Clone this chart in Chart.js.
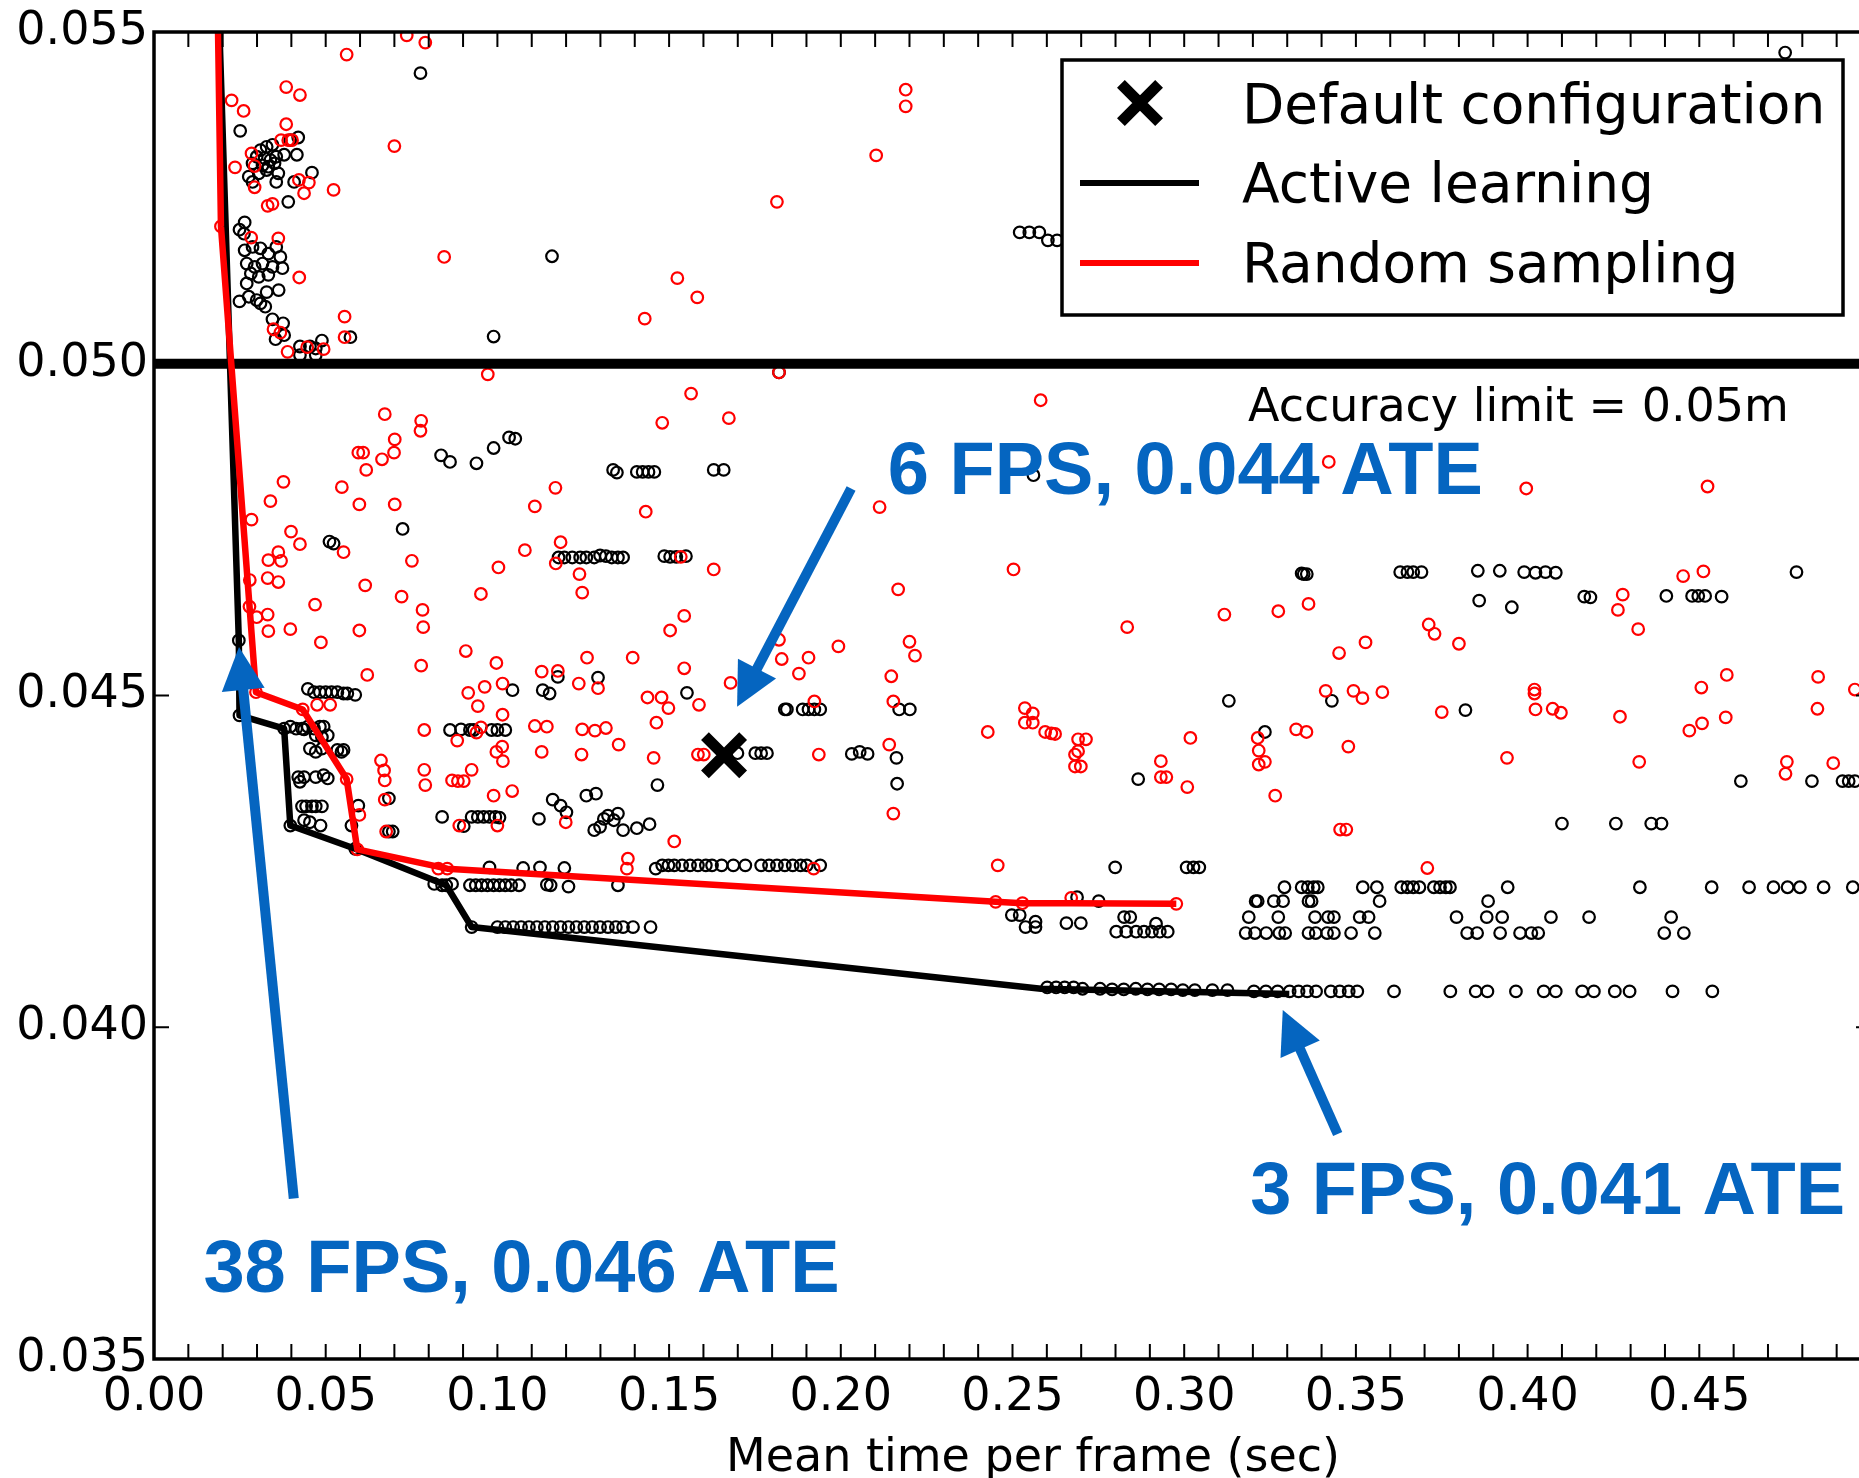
<!DOCTYPE html>
<html><head><meta charset="utf-8">
<script src="https://cdn.jsdelivr.net/npm/chart.js@4.4.1/dist/chart.umd.min.js"></script>
<style>html,body{margin:0;padding:0;background:#fff;overflow:hidden;width:1859px;height:1478px}canvas{display:block}</style>
</head><body>
<canvas id="c" width="1871" height="1478"></canvas>
<script>
// ---- data (x = mean time per frame [s], y = ATE [m]) ----
const xTickValues = [0.00, 0.05, 0.10, 0.15, 0.20, 0.25, 0.30, 0.35, 0.40, 0.45];
const yTickValues = [0.035, 0.040, 0.045, 0.050, 0.055];
const accuracyLimit = 0.05;
const defaultConfig = [[0.166, 0.0441]];

const activeFrontier = [[0.0160,0.0600],[0.0247,0.04583],[0.0249,0.04470],[0.0379,0.04450],[0.0397,0.04304],[0.0586,0.04269],[0.0851,0.04214],[0.0925,0.04151],[0.2583,0.04058],[0.3306,0.04050]];
const randomFrontier = [[0.0172,0.0600],[0.0195,0.05207],[0.0297,0.04505],[0.0433,0.04479],[0.0561,0.04374],[0.0592,0.04268],[0.0854,0.04239],[0.2451,0.04189],[0.2529,0.04187],[0.2671,0.04187],[0.2977,0.04186]];

const activeSamples = [
[0.0776,0.05438],[0.0251,0.05351],[0.0420,0.05341],[0.0397,0.05337],[0.0310,0.05322],[0.0328,0.05327],[0.0345,0.05330],[0.0299,0.05312],[0.0322,0.05310],[0.0339,0.05307],[0.0356,0.05312],[0.0379,0.05315],[0.0416,0.05315],[0.0287,0.05302],[0.0316,0.05299],[0.0333,0.05297],[0.0351,0.05302],[0.0362,0.05287],[0.0276,0.05282],[0.0305,0.05287],[0.0328,0.05292],[0.0356,0.05274],[0.0287,0.05274],[0.0408,0.05274],[0.0460,0.05288],[0.0391,0.05244],
[0.0264,0.05213],[0.0249,0.05202],[0.0262,0.05196],[0.0264,0.05171],[0.0287,0.05176],[0.0310,0.05174],[0.0333,0.05166],[0.0356,0.05176],[0.0368,0.05161],[0.0270,0.05151],[0.0293,0.05146],[0.0316,0.05151],[0.0345,0.05146],[0.0374,0.05144],[0.0282,0.05136],[0.0305,0.05131],[0.0333,0.05134],[0.0270,0.05121],[0.0363,0.05111],[0.0328,0.05108],[0.0249,0.05094],[0.0276,0.05101],[0.0299,0.05096],[0.0310,0.05091],[0.0324,0.05086],[0.0345,0.05067],[0.0376,0.05061],[0.0354,0.05037],[0.0379,0.05043],[0.0489,0.05035],[0.0572,0.05040],[0.0425,0.05026],[0.0454,0.05026],[0.0471,0.05023],[0.0425,0.05013],[0.0471,0.05013],[0.0989,0.05041],[0.1159,0.05162],[0.0836,0.04862],[0.0862,0.04852],[0.0939,0.04850],[0.0989,0.04873],[0.1034,0.04889],[0.1052,0.04887],
[0.2521,0.05198],[0.2549,0.05198],[0.2578,0.05198],[0.2603,0.05186],[0.2630,0.05186],[0.1820,0.04987],[0.1337,0.04840],[0.1348,0.04836],[0.1406,0.04837],[0.1423,0.04837],[0.1440,0.04837],[0.1457,0.04837],[0.1630,0.04840],[0.1659,0.04840],[0.2561,0.04832],[0.4750,0.05469],
[0.0724,0.04751],[0.0511,0.04732],[0.0523,0.04729],[0.1178,0.04708],[0.1195,0.04708],[0.1218,0.04708],[0.1241,0.04708],[0.1259,0.04708],[0.1282,0.04708],[0.1299,0.04711],[0.1316,0.04710],[0.1333,0.04708],[0.1351,0.04708],
[0.0247,0.04583],[0.0448,0.04510],[0.0466,0.04505],[0.0483,0.04505],[0.0500,0.04505],[0.0517,0.04505],[0.0534,0.04505],[0.0552,0.04503],[0.0563,0.04503],[0.0586,0.04501],
[0.1044,0.04508],[0.1132,0.04508],[0.1152,0.04503],[0.1176,0.04528],[0.1293,0.04527],
[0.0249,0.04470],[0.0379,0.04450],[0.0397,0.04453],[0.0414,0.04450],[0.0431,0.04450],[0.0448,0.04453],[0.0466,0.04450],[0.0483,0.04453],[0.0494,0.04453],[0.0506,0.04440],[0.0437,0.04449],[0.0471,0.04440],[0.0489,0.04437],
[0.0454,0.04420],[0.0471,0.04415],[0.0489,0.04420],[0.0534,0.04418],[0.0552,0.04418],[0.0546,0.04415],
[0.0420,0.04377],[0.0437,0.04377],[0.0471,0.04377],[0.0494,0.04380],[0.0506,0.04375],[0.0425,0.04370],
[0.0431,0.04333],[0.0443,0.04333],[0.0460,0.04333],[0.0471,0.04333],[0.0489,0.04333],[0.0595,0.04334],
[0.0437,0.04312],[0.0454,0.04309],[0.0485,0.04304],[0.0397,0.04304],[0.0575,0.04304],[0.0684,0.04345],[0.0684,0.04295],[0.0695,0.04295],
[0.0862,0.04448],[0.0894,0.04449],[0.0920,0.04448],[0.0931,0.04448],[0.0983,0.04448],[0.1000,0.04448],[0.1023,0.04448],
[0.0839,0.04317],[0.0925,0.04317],[0.0943,0.04317],[0.0960,0.04317],[0.0977,0.04317],[0.0994,0.04317],[0.1006,0.04316],[0.0902,0.04303],[0.1121,0.04314],[0.1161,0.04343],[0.1184,0.04334],[0.1201,0.04324],[0.1259,0.04349],[0.1287,0.04352],[0.1282,0.04297],[0.1299,0.04302],[0.1310,0.04314],[0.1322,0.04319],[0.1339,0.04312],[0.1351,0.04322],
[0.0586,0.04269],[0.0816,0.04216],[0.0839,0.04214],[0.0868,0.04216],[0.0851,0.04214],[0.0920,0.04214],[0.0937,0.04214],[0.0954,0.04214],[0.0971,0.04214],[0.0989,0.04214],[0.1006,0.04214],[0.1023,0.04214],[0.1040,0.04214],[0.1063,0.04214],[0.0977,0.04241],[0.1075,0.04240],[0.1124,0.04241],[0.1195,0.04240],[0.1144,0.04215],[0.1155,0.04214],[0.1207,0.04212],[0.1351,0.04214],
[0.0925,0.04151],[0.1000,0.04151],[0.1023,0.04151],[0.1046,0.04151],[0.1069,0.04151],[0.1092,0.04151],[0.1115,0.04151],[0.1138,0.04151],[0.1161,0.04151],[0.1184,0.04151],[0.1207,0.04151],[0.1230,0.04151],[0.1253,0.04151],[0.1276,0.04151],[0.1299,0.04151],[0.1322,0.04151],[0.1345,0.04151],[0.1366,0.04151],[0.1395,0.04151],[0.1446,0.04151],
[0.1366,0.04708],[0.1486,0.04710],[0.1503,0.04709],[0.1521,0.04709],[0.1549,0.04710],[0.1552,0.04504],[0.1837,0.04479],[0.1843,0.04479],[0.1889,0.04479],[0.1906,0.04479],[0.1923,0.04479],[0.1940,0.04479],[0.2170,0.04479],[0.2201,0.04479],
[0.1699,0.04413],[0.1751,0.04413],[0.1768,0.04413],[0.1785,0.04413],[0.2032,0.04412],[0.2055,0.04415],[0.2078,0.04412],[0.2162,0.04406],[0.2164,0.04367],[0.1466,0.04365],[0.2866,0.04374],
[0.1366,0.04297],[0.1406,0.04300],[0.1443,0.04306],[0.1461,0.04239],
[0.1480,0.04244],[0.1498,0.04244],[0.1515,0.04244],[0.1538,0.04244],[0.1561,0.04244],[0.1584,0.04244],[0.1607,0.04244],[0.1625,0.04244],[0.1653,0.04244],[0.1687,0.04244],[0.1722,0.04244],[0.1768,0.04244],[0.1791,0.04244],[0.1814,0.04244],[0.1837,0.04244],[0.1860,0.04244],[0.1883,0.04244],[0.1901,0.04244],[0.1940,0.04244],
[0.2799,0.04241],[0.3007,0.04241],[0.3027,0.04241],[0.3044,0.04241],[0.2688,0.04196],[0.2751,0.04190],[0.2498,0.04169],[0.2521,0.04169],[0.2538,0.04151],[0.2567,0.04159],[0.2567,0.04151],[0.2657,0.04157],[0.2699,0.04157],[0.2825,0.04166],[0.2843,0.04166],[0.2918,0.04156],
[0.2802,0.04144],[0.2831,0.04144],[0.2860,0.04144],[0.2883,0.04144],[0.2906,0.04144],[0.2929,0.04144],[0.2952,0.04144],
[0.3342,0.04684],[0.3348,0.04683],[0.3357,0.04683],[0.3629,0.04686],[0.3650,0.04686],[0.3667,0.04686],[0.3691,0.04686],[0.3855,0.04688],[0.3919,0.04688],[0.3990,0.04686],[0.4023,0.04685],[0.4052,0.04686],[0.4082,0.04685],[0.4783,0.04686],
[0.3859,0.04643],[0.3954,0.04633],[0.4165,0.04649],[0.4183,0.04648],[0.4404,0.04650],[0.4479,0.04650],[0.4497,0.04650],[0.4517,0.04650],[0.4565,0.04649],
[0.3130,0.04492],[0.3430,0.04492],[0.3819,0.04478],[0.3235,0.04445],[0.4621,0.04371],[0.4828,0.04371],[0.4917,0.04371],[0.4935,0.04371],[0.4953,0.04371],
[0.4100,0.04307],[0.4257,0.04307],[0.4360,0.04307],[0.4390,0.04307],
[0.3292,0.04211],[0.3342,0.04211],[0.3360,0.04211],[0.3377,0.04211],[0.3389,0.04211],[0.3520,0.04211],[0.3561,0.04211],[0.3632,0.04211],[0.3650,0.04211],[0.3667,0.04211],[0.3685,0.04211],[0.3727,0.04211],[0.3745,0.04211],[0.3762,0.04211],[0.3774,0.04211],[0.3942,0.04211],[0.4327,0.04211],[0.4536,0.04211],[0.4645,0.04211],[0.4716,0.04211],[0.4757,0.04211],[0.4793,0.04211],[0.4862,0.04211],[0.4947,0.04211],
[0.3208,0.04190],[0.3214,0.04190],[0.3261,0.04190],[0.3288,0.04190],[0.3362,0.04190],[0.3371,0.04190],[0.3569,0.04190],[0.3885,0.04190],
[0.3188,0.04166],[0.3274,0.04166],[0.3381,0.04166],[0.3419,0.04166],[0.3436,0.04166],[0.3511,0.04166],[0.3537,0.04166],[0.3793,0.04166],[0.3881,0.04166],[0.3926,0.04166],[0.4068,0.04166],[0.4179,0.04166],[0.4418,0.04166],
[0.3179,0.04142],[0.3206,0.04142],[0.3239,0.04142],[0.3277,0.04142],[0.3294,0.04142],[0.3362,0.04142],[0.3383,0.04142],[0.3416,0.04142],[0.3436,0.04142],[0.3486,0.04142],[0.3555,0.04142],[0.3824,0.04142],[0.3853,0.04142],[0.3920,0.04142],[0.3978,0.04142],[0.4011,0.04142],[0.4031,0.04142],[0.4398,0.04142],[0.4455,0.04142],
[0.2601,0.04060],[0.2627,0.04060],[0.2652,0.04060],[0.2678,0.04060],[0.2704,0.04058],[0.2755,0.04058],[0.2790,0.04057],[0.2824,0.04057],[0.2859,0.04058],[0.2893,0.04057],[0.2927,0.04057],[0.2962,0.04057],[0.2996,0.04056],[0.3031,0.04056],[0.3082,0.04056],[0.3126,0.04056],[0.3203,0.04054],[0.3238,0.04054],[0.3272,0.04054],[0.3307,0.04054],[0.3333,0.04054],[0.3358,0.04054],[0.3384,0.04054],[0.3427,0.04054],[0.3453,0.04054],[0.3479,0.04054],[0.3504,0.04054],[0.3611,0.04054],[0.3775,0.04054],[0.3849,0.04054],[0.3883,0.04054],[0.3966,0.04054],[0.4047,0.04054],[0.4082,0.04054],[0.4159,0.04054],[0.4193,0.04054],[0.4254,0.04054],[0.4297,0.04054],[0.4422,0.04054],[0.4538,0.04054]
];

const randomSamples = [
[0.0736,0.05495],[0.0790,0.05484],[0.0561,0.05466],[0.0385,0.05417],[0.0425,0.05405],[0.0226,0.05397],[0.0261,0.05381],[0.0385,0.05361],[0.0700,0.05328],[0.0370,0.05337],[0.0391,0.05337],[0.0402,0.05337],[0.0284,0.05317],[0.0236,0.05296],[0.0293,0.05298],[0.0293,0.05266],[0.0422,0.05277],[0.0451,0.05273],[0.0437,0.05257],[0.0523,0.05262],[0.0331,0.05238],[0.0345,0.05241],[0.0845,0.05161],[0.0195,0.05207],[0.0283,0.05190],[0.0362,0.05189],[0.0423,0.05130],[0.0555,0.05071],[0.0348,0.05052],[0.0368,0.05047],[0.0555,0.05040],[0.0389,0.05018],[0.0446,0.05025],[0.0494,0.05022],[0.0972,0.04984],[0.0672,0.04924],[0.0778,0.04914],[0.0776,0.04899],[0.0701,0.04886],[0.0699,0.04866],[0.0595,0.04866],[0.0609,0.04866],[0.0664,0.04856],[0.0618,0.04840],
[0.2189,0.05413],[0.2189,0.05388],[0.2103,0.05314],[0.1814,0.05244],[0.1524,0.05129],[0.1582,0.05100],[0.1429,0.05068],[0.1820,0.04987],[0.1564,0.04955],[0.1480,0.04911],[0.1674,0.04918],[0.2582,0.04945],[0.3421,0.04852],
[0.0377,0.04822],[0.0547,0.04814],[0.0339,0.04793],[0.0598,0.04788],[0.0701,0.04788],[0.1169,0.04813],[0.1109,0.04785],[0.0284,0.04765],[0.0399,0.04747],[0.0425,0.04728],[0.0362,0.04716],[0.0552,0.04716],[0.0333,0.04704],[0.0370,0.04703],[0.0751,0.04703],[0.1003,0.04693],[0.1080,0.04719],[0.1184,0.04731],[0.1170,0.04699],[0.1239,0.04683],[0.1247,0.04655],
[0.0279,0.04674],[0.0331,0.04677],[0.0362,0.04671],[0.0615,0.04666],[0.0952,0.04653],[0.0721,0.04649],[0.0469,0.04637],[0.0782,0.04629],[0.0278,0.04634],[0.0299,0.04618],[0.0331,0.04622],[0.0333,0.04597],[0.0397,0.04600],[0.0598,0.04598],[0.0784,0.04603],[0.0486,0.04580],[0.0908,0.04567],[0.0997,0.04549],[0.1261,0.04557],[0.0778,0.04545],[0.0621,0.04531],[0.1129,0.04536],[0.1176,0.04537],[0.1237,0.04518],[0.1293,0.04511],[0.0963,0.04513],[0.1015,0.04518],[0.0915,0.04504],[0.0943,0.04484],[0.1015,0.04471],
[0.0297,0.04505],[0.0433,0.04479],[0.0475,0.04486],[0.0513,0.04486],[0.0787,0.04448],[0.0883,0.04432],[0.0952,0.04452],[0.0939,0.04444],[0.1109,0.04454],[0.1144,0.04453],[0.1247,0.04449],[0.1284,0.04447],[0.1316,0.04451],[0.1353,0.04426],[0.1014,0.04423],[0.0997,0.04415],[0.1016,0.04401],[0.1129,0.04415],[0.1245,0.04411],
[0.0661,0.04402],[0.0670,0.04387],[0.0672,0.04372],[0.0561,0.04374],[0.0787,0.04388],[0.0790,0.04365],[0.0925,0.04388],[0.0868,0.04372],[0.0885,0.04371],[0.0902,0.04371],[0.0989,0.04349],[0.1043,0.04356],[0.0672,0.04343],[0.0598,0.04320],[0.0676,0.04295],[0.0889,0.04304],[0.1000,0.04304],[0.1199,0.04309],[0.0592,0.04268],[0.0854,0.04239],[0.0828,0.04239],
[0.1432,0.04777],[0.2113,0.04784],[0.1630,0.04690],[0.1534,0.04709],[0.2503,0.04690],[0.2167,0.04660],[0.2834,0.04603],[0.1544,0.04620],[0.1503,0.04598],[0.1820,0.04584],[0.1394,0.04557],[0.1828,0.04555],[0.1906,0.04557],[0.1993,0.04574],[0.2200,0.04581],[0.2216,0.04560],[0.1544,0.04541],[0.1878,0.04533],[0.2147,0.04529],[0.1679,0.04519],[0.1437,0.04497],[0.1478,0.04497],[0.1498,0.04481],[0.1587,0.04486],[0.1923,0.04491],[0.2153,0.04491],[0.1463,0.04459],[0.1455,0.04406],[0.1584,0.04411],[0.1601,0.04411],[0.1936,0.04411],[0.2141,0.04426],
[0.2536,0.04481],[0.2559,0.04473],[0.2536,0.04459],[0.2559,0.04459],[0.2428,0.04445],[0.2595,0.04445],[0.2613,0.04443],[0.2624,0.04442],[0.2691,0.04434],[0.2714,0.04434],[0.2682,0.04411],[0.2691,0.04416],[0.2682,0.04393],[0.2699,0.04393],[0.2932,0.04401],[0.2932,0.04377],[0.2948,0.04377],[0.3009,0.04362],[0.3018,0.04436],[0.2153,0.04322],[0.1515,0.04280],[0.1380,0.04254],[0.1377,0.04239],[0.1921,0.04239],[0.2457,0.04244],[0.2451,0.04189],[0.2529,0.04187],[0.2671,0.04195],[0.2977,0.04186],
[0.3996,0.04812],[0.4524,0.04815],[0.3117,0.04622],[0.3274,0.04627],[0.3362,0.04638],[0.3451,0.04564],[0.3528,0.04580],[0.3712,0.04607],[0.3729,0.04593],[0.3800,0.04578],[0.4263,0.04629],[0.4277,0.04652],[0.4322,0.04600],[0.4453,0.04680],[0.4512,0.04687],
[0.3412,0.04507],[0.3493,0.04507],[0.3519,0.04496],[0.3577,0.04505],[0.3750,0.04475],[0.4020,0.04509],[0.4020,0.04503],[0.4023,0.04479],[0.4073,0.04480],[0.4097,0.04474],[0.4269,0.04468],[0.4506,0.04512],[0.4580,0.04531],[0.4846,0.04528],[0.4953,0.04509],[0.4844,0.04480],[0.4471,0.04447],[0.4508,0.04458],[0.4577,0.04467],
[0.3326,0.04449],[0.3356,0.04445],[0.3214,0.04436],[0.3217,0.04417],[0.3217,0.04396],[0.3235,0.04400],[0.3478,0.04423],[0.3940,0.04406],[0.4325,0.04400],[0.4755,0.04400],[0.4751,0.04382],[0.4890,0.04398],[0.3265,0.04349],[0.3454,0.04298],[0.3472,0.04298],[0.3708,0.04240]
];

// ---- annotations (data coordinates) ----
const callouts = [
  {text:'6 FPS, 0.044 ATE',  at:[0.2137,0.04803], tail:[0.2030,0.04812], tip:[0.1698,0.04483]},
  {text:'38 FPS, 0.046 ATE', at:[0.0144,0.03601], tail:[0.0407,0.03742], tip:[0.02475,0.04573]},
  {text:'3 FPS, 0.041 ATE',  at:[0.3192,0.03718], tail:[0.3447,0.03839], tip:[0.3287,0.04026]}
];
const limitLabel = {text:'Accuracy limit = 0.05m', at:[0.3186,0.04913]};
const xTitle = 'Mean time per frame (sec)';

const toPts = a => a.map(([x, y]) => ({x, y}));
const BLUE = '#0565c0';

const framePlugin = {
  id: 'frame',
  afterDatasetsDraw(chart) {
    const {ctx, chartArea: a, scales: {x, y}} = chart;
    ctx.save();
    ctx.strokeStyle = '#000';
    ctx.lineWidth = 2;
    ctx.beginPath();
    for (let i = 0; i <= 50; i++) {
      const px = x.getPixelForValue(i / 100);
      ctx.moveTo(px, a.bottom); ctx.lineTo(px, a.bottom - 15);
      ctx.moveTo(px, a.top); ctx.lineTo(px, a.top + 15);
    }
    yTickValues.forEach(v => {
      const py = y.getPixelForValue(v);
      ctx.moveTo(a.left, py); ctx.lineTo(a.left + 15, py);
      ctx.moveTo(a.right, py); ctx.lineTo(a.right - 15, py);
    });
    ctx.stroke();
    ctx.lineWidth = 3.5;
    ctx.strokeRect(a.left, a.top, a.right - a.left, a.bottom - a.top);
    ctx.restore();
  }
};

function arrow(ctx, x0, y0, x1, y1) {
  const dx = x1 - x0, dy = y1 - y0, L = Math.hypot(dx, dy);
  const ux = dx / L, uy = dy / L, nx = -uy, ny = ux;
  const hl = 43, hw = 21.5;
  const bx = x1 - ux * hl, by = y1 - uy * hl;
  ctx.beginPath();
  ctx.lineWidth = 10; ctx.lineCap = 'butt';
  ctx.moveTo(x0, y0); ctx.lineTo(bx + ux * 2, by + uy * 2);
  ctx.stroke();
  ctx.beginPath();
  ctx.moveTo(x1, y1);
  ctx.lineTo(bx + nx * hw, by + ny * hw);
  ctx.lineTo(bx - nx * hw, by - ny * hw);
  ctx.closePath();
  ctx.fill();
}

const annotPlugin = {
  id: 'annot',
  afterDraw(chart) {
    const {ctx, scales: {x, y}} = chart;
    const P = p => [x.getPixelForValue(p[0]), y.getPixelForValue(p[1])];
    ctx.save();
    ctx.fillStyle = '#000';
    ctx.font = '46px "DejaVu Sans"';
    ctx.textBaseline = 'alphabetic';
    ctx.textAlign = 'left';
    const lp = P(limitLabel.at);
    ctx.fillText(limitLabel.text, lp[0], lp[1]);
    ctx.fillText(xTitle, 726, 1471);
    ctx.fillStyle = BLUE; ctx.strokeStyle = BLUE;
    ctx.font = 'bold 74px "Liberation Sans", Arial, sans-serif';
    callouts.forEach(c => {
      const t = P(c.at), a0 = P(c.tail), a1 = P(c.tip);
      arrow(ctx, a0[0], a0[1], a1[0], a1[1]);
      ctx.fillText(c.text, t[0], t[1]);
    });
    ctx.restore();
  }
};

const legendPlugin = {
  id: 'legendBox',
  afterDraw(chart) {
    const ctx = chart.ctx;
    const ds = chart.data.datasets;
    ctx.save();
    ctx.fillStyle = '#fff';
    ctx.fillRect(1062, 60, 781, 255);
    ctx.strokeStyle = '#000'; ctx.lineWidth = 3.5;
    ctx.strokeRect(1062, 60, 781, 255);
    ctx.lineWidth = 11; ctx.strokeStyle = '#000'; ctx.fillStyle = '#000';
    Chart.helpers.drawPoint(ctx, {pointStyle: 'crossRot', radius: 27, borderWidth: 11, rotation: 0}, 1140, 103);
    ctx.lineCap = 'butt';
    ctx.lineWidth = 6;
    ctx.beginPath(); ctx.moveTo(1080, 183); ctx.lineTo(1199, 183); ctx.strokeStyle = ds[2].borderColor; ctx.stroke();
    ctx.beginPath(); ctx.moveTo(1080, 263); ctx.lineTo(1199, 263); ctx.strokeStyle = ds[1].borderColor; ctx.stroke();
    ctx.fillStyle = '#000';
    ctx.font = '55px "DejaVu Sans"';
    ctx.textAlign = 'left'; ctx.textBaseline = 'alphabetic';
    ctx.fillText(ds[0].label, 1242, 123);
    ctx.fillText(ds[2].label, 1242, 202);
    ctx.fillText(ds[1].label, 1242, 282);
    ctx.restore();
  }
};

new Chart(document.getElementById('c'), {
  type: 'scatter',
  data: {
    datasets: [
      {label: 'Default configuration', data: toPts(defaultConfig), pointStyle: 'crossRot', pointRadius: 27, pointBorderWidth: 11, borderColor: '#000', backgroundColor: '#000', order: 1},
      {label: 'Random sampling', data: toPts(randomFrontier), showLine: true, borderColor: '#ff0000', borderWidth: 6.5, pointRadius: 0, borderJoinStyle: 'round', order: 2},
      {label: 'Active learning', data: toPts(activeFrontier), showLine: true, borderColor: '#000', borderWidth: 6.5, pointRadius: 0, borderJoinStyle: 'round', order: 3},
      {label: 'Accuracy limit', data: [{x: 0, y: accuracyLimit}, {x: 0.5, y: accuracyLimit}], showLine: true, borderColor: '#000', borderWidth: 10, pointRadius: 0, order: 4},
      {label: 'Random sampling configurations', data: toPts(randomSamples), pointStyle: 'circle', pointRadius: 5.8, pointBorderWidth: 2.2, borderColor: '#ff0000', backgroundColor: 'rgba(0,0,0,0)', order: 5},
      {label: 'Active learning configurations', data: toPts(activeSamples), pointStyle: 'circle', pointRadius: 5.8, pointBorderWidth: 2.2, borderColor: '#000', backgroundColor: 'rgba(0,0,0,0)', order: 6}
    ]
  },
  options: {
    responsive: false, animation: false, devicePixelRatio: 1,
    layout: {autoPadding: false, padding: {left: 0, top: 32, right: 0, bottom: 0}},
    plugins: {legend: {display: false}, tooltip: {enabled: false}},
    scales: {
      x: {
        type: 'linear', min: 0, max: 0.5,
        afterBuildTicks: s => { s.ticks = xTickValues.map(v => ({value: v})); },
        afterFit: s => { s.height = 119; s.paddingLeft = 0; s.paddingRight = 0; },
        ticks: {font: {family: 'DejaVu Sans', size: 46}, color: '#000', padding: 11, maxRotation: 0, autoSkip: false, callback: v => Number(v).toFixed(2)},
        grid: {display: false, drawTicks: false}, border: {display: false}
      },
      y: {
        type: 'linear', min: 0.035, max: 0.055,
        afterBuildTicks: s => { s.ticks = yTickValues.map(v => ({value: v})); },
        afterFit: s => { s.width = 154; s.paddingTop = 0; s.paddingBottom = 0; },
        ticks: {font: {family: 'DejaVu Sans', size: 46}, color: '#000', padding: 6, autoSkip: false, callback: v => Number(v).toFixed(3)},
        grid: {display: false, drawTicks: false}, border: {display: false}
      }
    }
  },
  plugins: [framePlugin, annotPlugin, legendPlugin]
});
</script>
</body></html>
